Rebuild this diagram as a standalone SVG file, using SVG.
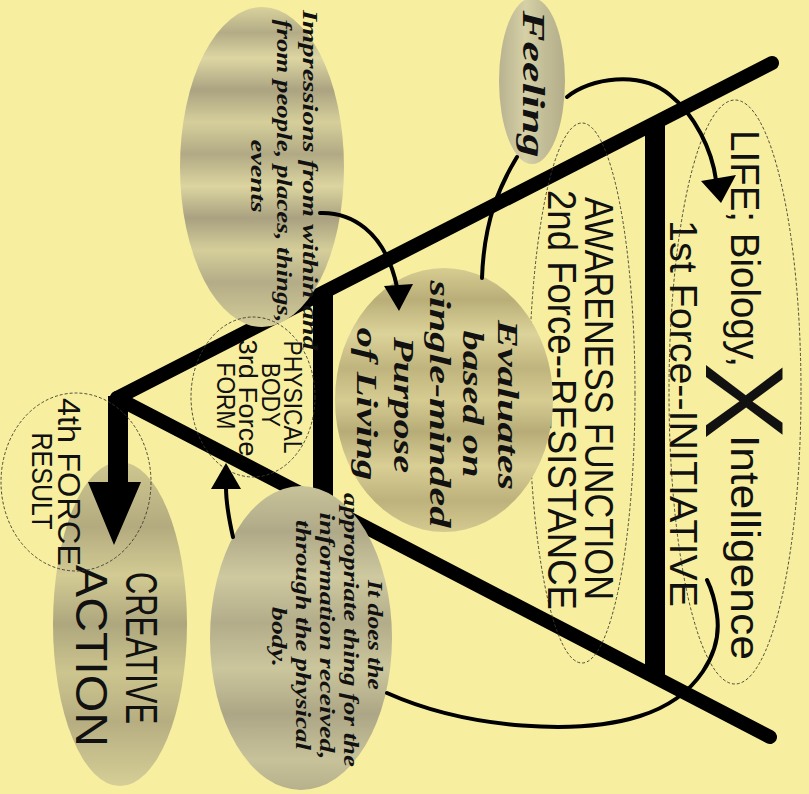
<svg xmlns="http://www.w3.org/2000/svg" width="809" height="794" viewBox="0 0 809 794">
<style>
.sans{font-family:"Liberation Sans",Arial,sans-serif;fill:#111}
.script{font-family:"Liberation Serif","Times New Roman",serif;font-style:italic;font-weight:bold;fill:#111}
.dash{fill:none;stroke:#3a3a30;stroke-width:0.9;stroke-dasharray:3 2}
.frame{stroke:#000;fill:none;stroke-linecap:round}
.conn{stroke:#000;fill:none;stroke-width:4;stroke-linecap:round}
.head{fill:#000}
</style>
<defs>
<linearGradient id="gImp" x1="0" y1="0" x2="0" y2="1">
<stop offset="0" stop-color="#d9d29c"/><stop offset="0.08" stop-color="#b3ab86"/><stop offset="0.16" stop-color="#ddd6a2"/><stop offset="0.26" stop-color="#aba381"/><stop offset="0.36" stop-color="#d6cf9b"/><stop offset="0.46" stop-color="#b1a984"/><stop offset="0.56" stop-color="#dcd5a0"/><stop offset="0.66" stop-color="#a9a180"/><stop offset="0.76" stop-color="#d5ce9a"/><stop offset="0.86" stop-color="#b4ac87"/><stop offset="1" stop-color="#d3cc98"/>
</linearGradient>
<linearGradient id="gEval" x1="0" y1="0" x2="0" y2="1">
<stop offset="0" stop-color="#d7cd92"/><stop offset="0.12" stop-color="#b9ae78"/><stop offset="0.25" stop-color="#dcd39a"/><stop offset="0.38" stop-color="#bfb47d"/><stop offset="0.5" stop-color="#d6cc92"/><stop offset="0.62" stop-color="#b7ac77"/><stop offset="0.75" stop-color="#d9cf95"/><stop offset="0.88" stop-color="#bdb27c"/><stop offset="1" stop-color="#d4ca90"/>
</linearGradient>
<linearGradient id="gDoes" x1="0" y1="0" x2="0" y2="1">
<stop offset="0" stop-color="#c9c39a"/><stop offset="0.15" stop-color="#afa988"/><stop offset="0.3" stop-color="#cfc9a0"/><stop offset="0.45" stop-color="#b2ac8a"/><stop offset="0.6" stop-color="#ccc69d"/><stop offset="0.75" stop-color="#aca686"/><stop offset="0.9" stop-color="#c8c29a"/><stop offset="1" stop-color="#b6b08c"/>
</linearGradient>
<linearGradient id="gFeel" x1="0" y1="0" x2="1" y2="0">
<stop offset="0" stop-color="#b8b290"/><stop offset="0.4" stop-color="#d6d0a6"/><stop offset="0.7" stop-color="#c2bc96"/><stop offset="1" stop-color="#b3ad8a"/>
</linearGradient>
<linearGradient id="gCre" x1="0" y1="0" x2="0" y2="1">
<stop offset="0" stop-color="#cfc78f"/><stop offset="0.2" stop-color="#b3ab7f"/><stop offset="0.35" stop-color="#d3cb93"/><stop offset="0.5" stop-color="#aea77e"/><stop offset="0.65" stop-color="#cdc58e"/><stop offset="0.8" stop-color="#b6ae81"/><stop offset="1" stop-color="#d6ce96"/>
</linearGradient>
</defs>
<rect width="809" height="794" fill="#f7ef9f"/>
<g id="frame">
<path class="frame" stroke-width="14" d="M117,398 L772,63"/>
<path class="frame" stroke-width="14" d="M117,398 L770,737"/>
<path stroke="#000" stroke-width="20" d="M655,122 L655,677"/>
<path stroke="#000" stroke-width="20" d="M323,292 L323,505"/>
</g>
<g id="node-life">
<ellipse class="dash" cx="735" cy="392" rx="66" ry="292"/>
<text class="sans" font-size="40" transform="translate(731,130) rotate(90)" textLength="237" lengthAdjust="spacingAndGlyphs">LIFE; Biology,</text>
<text class="sans" font-size="112" text-anchor="middle" transform="translate(706,401) rotate(90)" textLength="77" lengthAdjust="spacingAndGlyphs">X</text>
<text class="sans" font-size="40" transform="translate(731,435) rotate(90)" textLength="225" lengthAdjust="spacingAndGlyphs">Intelligence</text>
<text class="sans" font-size="38" transform="translate(670,220) rotate(90)" textLength="387" lengthAdjust="spacingAndGlyphs">1st Force--INITIATIVE</text>
</g>
<g id="node-awareness">
<ellipse class="dash" cx="582" cy="393" rx="53" ry="270"/>
<text class="sans" font-size="41" transform="translate(585,197) rotate(90)" textLength="403" lengthAdjust="spacingAndGlyphs">AWARENESS FUNCTION</text>
<text class="sans" font-size="40" transform="translate(548,190) rotate(90)" textLength="420" lengthAdjust="spacingAndGlyphs">2nd Force--RESISTANCE</text>
</g>
<g id="node-feeling">
<ellipse cx="532" cy="81" rx="33" ry="83" fill="url(#gFeel)"/>
<text class="script" font-size="32" text-anchor="middle" transform="translate(523,84) rotate(90)" textLength="147" lengthAdjust="spacingAndGlyphs">Feeling</text>
</g>
<g id="node-impressions">
<ellipse cx="262" cy="167" rx="82" ry="160" fill="url(#gImp)"/>
<text class="script" font-size="20" text-anchor="middle" transform="translate(303,180) rotate(90)" textLength="340" lengthAdjust="spacingAndGlyphs">Impressions from within and</text>
<text class="script" font-size="20" text-anchor="middle" transform="translate(277,171) rotate(90)" textLength="303" lengthAdjust="spacingAndGlyphs">from people, places, things,</text>
<text class="script" font-size="20" text-anchor="middle" transform="translate(251,176) rotate(90)" textLength="73" lengthAdjust="spacingAndGlyphs">events</text>
</g>
<g id="node-evaluates">
<ellipse cx="444" cy="400" rx="109" ry="132" fill="url(#gEval)"/>
<text class="script" font-size="30" text-anchor="middle" transform="translate(498,405) rotate(90)" textLength="170" lengthAdjust="spacingAndGlyphs">Evaluates</text>
<text class="script" font-size="30" text-anchor="middle" transform="translate(463,404) rotate(90)" textLength="147" lengthAdjust="spacingAndGlyphs">based on</text>
<text class="script" font-size="30" text-anchor="middle" transform="translate(430,404) rotate(90)" textLength="247" lengthAdjust="spacingAndGlyphs">single-minded</text>
<text class="script" font-size="30" text-anchor="middle" transform="translate(394,405) rotate(90)" textLength="136" lengthAdjust="spacingAndGlyphs">Purpose</text>
<text class="script" font-size="30" text-anchor="middle" transform="translate(357,404) rotate(90)" textLength="153" lengthAdjust="spacingAndGlyphs">of Living</text>
</g>
<g id="node-itdoes">
<ellipse cx="301" cy="638" rx="91" ry="152" fill="url(#gDoes)"/>
<text class="script" font-size="20" text-anchor="middle" transform="translate(368,635) rotate(90)" textLength="110" lengthAdjust="spacingAndGlyphs">It does the</text>
<text class="script" font-size="20" text-anchor="middle" transform="translate(344,630) rotate(90)" textLength="274" lengthAdjust="spacingAndGlyphs">appropriate thing for the</text>
<text class="script" font-size="20" text-anchor="middle" transform="translate(320,636) rotate(90)" textLength="247" lengthAdjust="spacingAndGlyphs">information received,</text>
<text class="script" font-size="20" text-anchor="middle" transform="translate(296,635) rotate(90)" textLength="230" lengthAdjust="spacingAndGlyphs">through the physical</text>
<text class="script" font-size="20" text-anchor="middle" transform="translate(272,637) rotate(90)" textLength="60" lengthAdjust="spacingAndGlyphs">body.</text>
</g>
<g id="node-creative">
<ellipse cx="120" cy="624" rx="67" ry="162" fill="url(#gCre)"/>
<text class="sans" font-size="44" text-anchor="middle" transform="translate(126,648) rotate(90)" textLength="152" lengthAdjust="spacingAndGlyphs">CREATIVE</text>
<text class="sans" font-size="44" text-anchor="middle" transform="translate(76,656) rotate(90)" textLength="182" lengthAdjust="spacingAndGlyphs">ACTION</text>
</g>
<g id="node-physical">
<ellipse class="dash" cx="253" cy="397" rx="62" ry="80"/>
<text class="sans" font-size="26" text-anchor="middle" transform="translate(284,397) rotate(90)" textLength="113" lengthAdjust="spacingAndGlyphs">PHYSICAL</text>
<text class="sans" font-size="26" text-anchor="middle" transform="translate(262,395) rotate(90)" textLength="64" lengthAdjust="spacingAndGlyphs">BODY</text>
<text class="sans" font-size="26" text-anchor="middle" transform="translate(239,398) rotate(90)" textLength="117" lengthAdjust="spacingAndGlyphs">3rd Force</text>
<text class="sans" font-size="26" text-anchor="middle" transform="translate(217,396) rotate(90)" textLength="67" lengthAdjust="spacingAndGlyphs">FORM</text>
</g>
<g id="connectors">
<path fill="#000" d="M108,396 L128,396 L128,482 L141,482 L114,545 L88,482 L108,482 Z"/>
<path class="conn" d="M567,97 C590,78 640,70 670,95 C695,115 712,150 716,180"/>
<polygon class="head" points="701,181 736,175 721,203"/>
<path class="conn" d="M517,157 C500,185 484,220 482,278"/>
<path class="conn" d="M320,213 C350,212 385,230 397,287"/>
<polygon class="head" points="384,286 413,284 399,311"/>
<path class="conn" d="M233,537 C228,515 226,500 226,487"/>
<polygon class="head" points="211,489 241,489 226,463"/>
<path class="conn" d="M387,693 C470,730 580,735 640,716 C700,697 722,650 717,615 C715,600 712,590 707,580"/>
</g>
<g id="node-result">
<ellipse class="dash" cx="76" cy="482" rx="75" ry="89"/>
<text class="sans" font-size="32" text-anchor="middle" transform="translate(58,482) rotate(90)" textLength="168" lengthAdjust="spacingAndGlyphs">4th FORCE</text>
<text class="sans" font-size="29" text-anchor="middle" transform="translate(32,481) rotate(90)" textLength="97" lengthAdjust="spacingAndGlyphs">RESULT</text>
</g>
</svg>
